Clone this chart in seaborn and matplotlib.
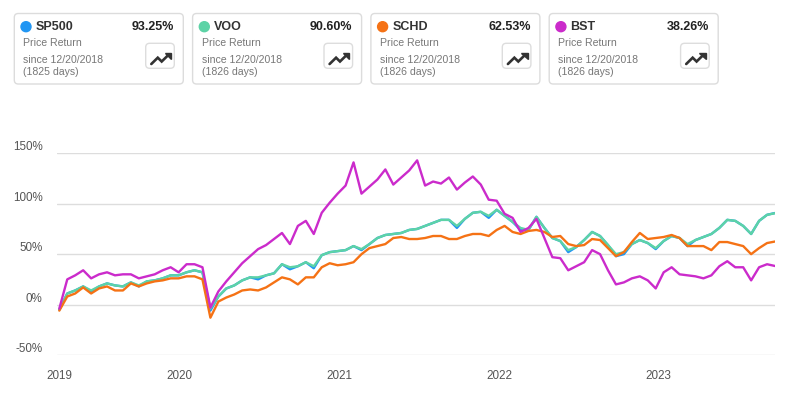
import numpy as np
import pandas as pd
import matplotlib
matplotlib.use("Agg")
import matplotlib.pyplot as plt
import seaborn as sns
from matplotlib.patches import FancyBboxPatch, Circle, Polygon

# legend cards
tickers = ["SP500", "VOO", "SCHD", "BST"]
colors = ["#2196F3", "#5DD3A6", "#F57215", "#CB2BCB"]
card_returns = ["93.25%", "90.60%", "62.53%", "38.26%"]
card_days = ["(1825 days)", "(1826 days)", "(1826 days)", "(1826 days)"]
card_kind = "Price Return"
card_since = "since 12/20/2018"

# price return in %
dates = pd.date_range("2019-04-01", "2023-09-24", periods=91)

sp500 = [-5, 11, 14, 18, 13, 18, 21, 19, 18, 22, 18, 23, 24, 26, 29, 29, 32, 34, 32, -6, 8, 16, 19,
         24, 27, 25, 29, 31, 40, 35, 38, 42, 36, 49, 52, 53, 54, 58, 54, 60, 66, 69, 70, 71, 74,
         75, 78, 81, 84, 84, 76, 85, 91, 92, 86, 94, 88, 82, 74, 74, 87, 76, 66, 63, 52, 57, 64, 72,
         68, 59, 48, 50, 60, 64, 61, 55, 63, 68, 66, 58, 64, 67, 70, 76, 84, 83, 78, 70, 83, 89,
         90.8]
voo = [-5, 11, 14, 18, 14, 18, 21, 19, 18, 22, 19, 23, 24, 26, 29, 29, 32, 34, 32, -4, 8, 16, 19,
       24, 27, 27, 29, 31, 40, 37, 38, 42, 38, 49, 52, 53, 54, 58, 55, 60, 66, 69, 70, 71, 74,
       75, 78, 81, 84, 84, 78, 85, 91, 92, 88, 94, 88, 82, 76, 74, 87, 76, 66, 63, 54, 57, 64, 72,
       68, 59, 50, 52, 60, 64, 61, 56, 63, 68, 66, 60, 64, 67, 70, 76, 84, 83, 78, 70, 83, 89,
       90.6]
schd = [-6, 8, 11, 17, 11, 16, 18, 14, 14, 21, 18, 21, 23, 24, 26, 26, 28, 28, 25, -13, 3, 7, 10,
        14, 15, 14, 17, 22, 27, 25, 20, 27, 27, 37, 41, 39, 40, 42, 50, 56, 58, 60, 66, 67, 65,
        65, 66, 68, 68, 65, 65, 68, 70, 70, 68, 74, 78, 72, 70, 73, 74, 72, 67, 68, 60, 58, 59, 65,
        64, 56, 48, 52, 62, 71, 65, 66, 67, 69, 66, 58, 58, 58, 54, 62, 62, 60, 58, 50, 56, 61,
        62.53]
bst = [-4, 25, 29, 34, 26, 30, 32, 29, 30, 30, 26, 28, 30, 34, 37, 32, 40, 40, 37, -3, 13, 23, 32,
       41, 48, 55, 59, 65, 71, 60, 78, 83, 70, 91, 101, 110, 118, 141, 110, 117, 124, 134, 119, 126, 133,
       143, 118, 122, 120, 126, 114, 121, 127, 119, 104, 103, 90, 86, 72, 76, 85, 66, 47, 46, 34, 38, 42, 54,
       50, 34, 20, 22, 26, 28, 24, 16, 32, 37, 30, 29, 28, 26, 29, 38, 43, 37, 37, 24, 37, 40,
       38.26]

year_ticks = [dates[0]] + list(pd.to_datetime(["2020-01-01", "2021-01-01", "2022-01-01", "2023-01-01"]))
year_labels = ["2019", "2020", "2021", "2022", "2023"]
y_ticks = [-50, 0, 50, 100, 150]
y_labels = ["-50%", "0%", "50%", "100%", "150%"]

df = pd.DataFrame({
    "date": np.tile(dates, 4),
    "ticker": np.repeat(tickers, len(dates)),
    "ret": np.concatenate([sp500, voo, schd, bst]),
})

sns.set_style("white")
plt.rcParams["font.family"] = ["Liberation Sans", "DejaVu Sans"]

fig = plt.figure(figsize=(7.99, 4.05), dpi=100)
W, H = 799, 405
ax = fig.add_axes([57.3 / W, 1 - 355 / H, (775 - 57.3) / W, (355 - 153.3) / H])

sns.lineplot(data=df, x="date", y="ret", hue="ticker", hue_order=tickers,
             palette=colors, linewidth=1.7, legend=False, ax=ax)

ax.set_xlim(dates[0] - pd.Timedelta(days=4.6), dates[-1])
ax.set_ylim(-50, 150)
ax.set_xticks(year_ticks)
ax.set_xticklabels(year_labels)
ax.set_yticks(y_ticks)
ax.set_yticklabels(y_labels)
for lab in ax.get_yticklabels():
    lab.set_verticalalignment("bottom")
ax.set_xlabel("")
ax.set_ylabel("")
ax.grid(axis="y", color="#dddddd", linewidth=1)
ax.grid(axis="x", visible=False)
ax.set_axisbelow(True)
for s in ax.spines.values():
    s.set_visible(False)
ax.tick_params(axis="x", length=6, width=1, color="#cccccc", pad=5, labelsize=8.4, labelcolor="#555555")
ax.tick_params(axis="y", length=0, pad=10.5, labelsize=8.4, labelcolor="#555555")

# cards on top
cax = fig.add_axes([0, 0, 1, 1])
cax.set_xlim(0, W)
cax.set_ylim(H, 0)
cax.axis("off")

for k in range(len(tickers)):
    x0 = 14.3 + k * 178.3
    cax.add_patch(FancyBboxPatch((x0, 13.5), 169, 70.5, boxstyle="round,pad=0,rounding_size=4",
                                 facecolor="white", edgecolor="#dcdcdc", linewidth=1))
    cax.add_patch(Circle((x0 + 11.7, 26.7), 5, color=colors[k]))
    cax.text(x0 + 21.4, 26.9, tickers[k], fontsize=9, fontweight="bold", color="#333333", va="center")
    cax.text(x0 + 159.7, 26.9, card_returns[k], fontsize=9, fontweight="bold", color="#222222",
             va="center", ha="right")
    cax.text(x0 + 9, 43.5, card_kind, fontsize=7.6, color="#777777", va="center")
    cax.text(x0 + 9, 60, card_since, fontsize=7.6, color="#777777", va="center")
    cax.text(x0 + 9, 71.7, card_days[k], fontsize=7.6, color="#777777", va="center")
    # icon button
    cax.add_patch(FancyBboxPatch((x0 + 131.4, 43.3), 28.6, 25, boxstyle="round,pad=0,rounding_size=4",
                                 facecolor="white", edgecolor="#dddddd", linewidth=1))
    ix, iy = x0 + 137, 52.5
    px = [ix + (u - 2) * 0.98 for u in (2, 8.6, 12.6, 19.6)]
    py = [iy + (v - 6) * 0.96 for v in (18, 11.4, 15.4, 8.4)]
    cax.plot(px, py, color="#333333", linewidth=1.9, solid_joinstyle="miter")
    tri = [(ix + (u - 2) * 0.98, iy + (v - 6) * 0.96) for u, v in ((15.5, 6), (22, 6), (22, 12.5))]
    cax.add_patch(Polygon(tri, closed=True, color="#333333"))

fig.savefig("out.png", dpi=100)
